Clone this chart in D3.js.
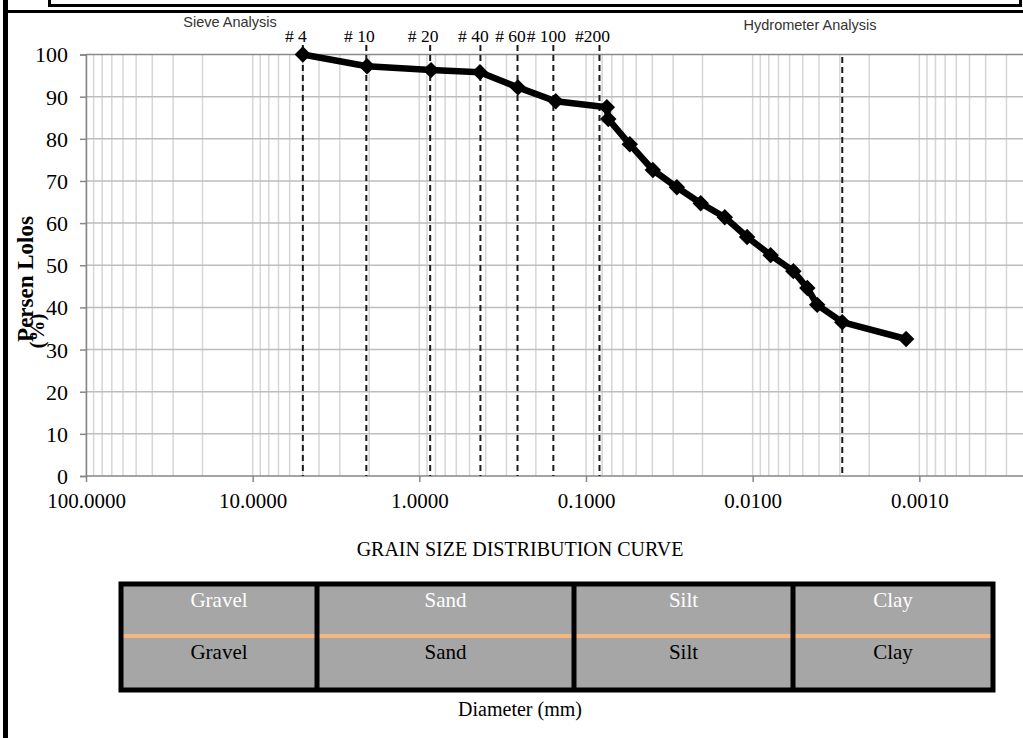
<!DOCTYPE html>
<html lang="en">
<head>
    <meta charset="UTF-8">
    <title>Grain Size Distribution Curve</title>
    <script src="https://cdn.jsdelivr.net/npm/d3@7"></script>
    <style>
        body { margin: 0; background: #fff; }
        svg { display: block; }
        .serif { font-family: "Liberation Serif", "Times New Roman", serif; }
        .sans { font-family: "Liberation Sans", Arial, sans-serif; }
    </style>
</head>
<body>
    <svg id="chart" width="1023" height="738"></svg>
    <script>
        // grain size data (diameter in mm, percent passing)
        const diameters = [5.0, 2.06, 0.851, 0.433, 0.256, 0.152, 0.075, 0.0735, 0.0546, 0.0397,
                           0.0285, 0.0205, 0.0147, 0.0108, 0.0078, 0.0057, 0.0047, 0.0041, 0.0029, 0.0012];
        const percentFiner = [100, 97.2, 96.3, 95.8, 92.2, 88.9, 87.5, 84.7, 78.7, 72.6,
                              68.5, 64.7, 61.4, 56.7, 52.4, 48.6, 44.6, 40.6, 36.5, 32.5];

        // sieve marker lines
        const sieveNames = ["# 4", "# 10", "# 20", "# 40", "# 60", "# 100", "#200"];
        const sieveSizes = [5.0, 2.08, 0.861, 0.43, 0.2576, 0.157, 0.083];
        const hydrometerLine = [0.0029];

        const xTicks = [100, 10, 1, 0.1, 0.01, 0.001];
        const yTicks = [0, 10, 20, 30, 40, 50, 60, 70, 80, 90, 100];
        const soilTypes = ["Gravel", "Sand", "Silt", "Clay"];

        const svg = d3.select("#chart");

        const x = d3.scaleLog().domain([100, 0.0001]).range([86, 1086]);
        const y = d3.scaleLinear().domain([0, 100]).range([476, 54.5]);

        // page frame
        const frame = svg.append("g").attr("fill", "#000");
        frame.append("rect").attr("x", 3).attr("y", 0).attr("width", 5).attr("height", 738);
        frame.append("rect").attr("x", 3).attr("y", 10).attr("width", 1020).attr("height", 3);
        frame.append("rect").attr("x", 49).attr("y", 4).attr("width", 973).attr("height", 3);
        frame.append("rect").attr("x", 48).attr("y", 0).attr("width", 3).attr("height", 7);
        frame.append("rect").attr("x", 1019).attr("y", 0).attr("width", 3).attr("height", 7);

        // vertical grid (log minor lines)
        svg.append("g").selectAll("line")
            .data(x.ticks())
            .join("line")
            .attr("x1", d => x(d)).attr("x2", d => x(d))
            .attr("y1", y(0)).attr("y2", y(100))
            .attr("stroke", "#d6d6d6").attr("stroke-width", 1.5);

        // horizontal grid
        svg.append("g").selectAll("line")
            .data(yTicks.filter(d => d > 0))
            .join("line")
            .attr("x1", x(100)).attr("x2", 1023)
            .attr("y1", d => y(d)).attr("y2", d => y(d))
            .attr("stroke", d => d === 100 ? "#8a8a8a" : "#bdbdbd")
            .attr("stroke-width", 1.5);

        // axes
        const xAxis = svg.append("g")
            .attr("transform", `translate(0,${y(0)})`)
            .call(d3.axisBottom(x).tickValues(xTicks).tickSize(6).tickFormat(d3.format(".4f")));
        const yAxis = svg.append("g")
            .attr("transform", `translate(${x(100)},0)`)
            .call(d3.axisLeft(y).tickValues(yTicks).tickSize(6));

        [xAxis, yAxis].forEach(g => {
            g.select(".domain").attr("stroke", "#868686").attr("stroke-width", 1.5);
            g.selectAll(".tick line").attr("stroke", "#868686").attr("stroke-width", 1.5);
            g.selectAll(".tick text")
                .attr("class", "serif")
                .attr("font-size", 21)
                .attr("fill", "#000");
        });
        xAxis.select(".domain").attr("d", `M${x(100)},0H1023`);
        xAxis.selectAll(".tick text").attr("y", 32).attr("dy", 0);
        yAxis.selectAll(".tick text").attr("x", -18).attr("dy", "0.34em").attr("font-size", 22);

        // sieve / hydrometer dashed lines
        svg.append("g").selectAll("line")
            .data(sieveSizes)
            .join("line")
            .attr("x1", d => x(d)).attr("x2", d => x(d))
            .attr("y1", 45).attr("y2", y(0))
            .attr("stroke", "#1a1a1a").attr("stroke-width", 2)
            .attr("stroke-dasharray", "6,4");
        svg.append("g").selectAll("line")
            .data(hydrometerLine)
            .join("line")
            .attr("x1", d => x(d)).attr("x2", d => x(d))
            .attr("y1", 57).attr("y2", y(0))
            .attr("stroke", "#1a1a1a").attr("stroke-width", 2)
            .attr("stroke-dasharray", "6,4");

        svg.append("g").selectAll("text")
            .data(sieveNames)
            .join("text")
            .attr("class", "serif")
            .attr("x", (d, i) => x(sieveSizes[i]) - 7)
            .attr("y", 42)
            .attr("text-anchor", "middle")
            .attr("font-size", 17.5)
            .text(d => d);

        svg.append("text").attr("class", "sans")
            .attr("x", 230).attr("y", 27).attr("text-anchor", "middle")
            .attr("font-size", 14.5).attr("fill", "#333")
            .text("Sieve Analysis");
        svg.append("text").attr("class", "sans")
            .attr("x", 810).attr("y", 30).attr("text-anchor", "middle")
            .attr("font-size", 14.5).attr("fill", "#333")
            .text("Hydrometer Analysis");

        // curve
        const points = diameters.map((d, i) => ({ d: d, p: percentFiner[i] }));
        svg.append("path")
            .datum(points)
            .attr("fill", "none")
            .attr("stroke", "#000")
            .attr("stroke-width", 6.5)
            .attr("stroke-linejoin", "round")
            .attr("d", d3.line().x(d => x(d.d)).y(d => y(d.p)));
        svg.append("g").selectAll("path")
            .data(points)
            .join("path")
            .attr("d", d3.symbol(d3.symbolSquare, 135))
            .attr("transform", d => `translate(${x(d.d)},${y(d.p)}) rotate(45)`)
            .attr("fill", "#000");

        // y axis title
        svg.append("text").attr("class", "serif")
            .attr("transform", "translate(33,279) rotate(-90)")
            .attr("text-anchor", "middle")
            .attr("font-size", 23).attr("font-weight", "bold")
            .text("Persen Lolos");
        svg.append("text").attr("class", "serif")
            .attr("transform", "translate(44,331) rotate(-90)")
            .attr("text-anchor", "middle")
            .attr("font-size", 21).attr("font-weight", "bold")
            .text("(%)");

        svg.append("text").attr("class", "serif")
            .attr("x", 520).attr("y", 556).attr("text-anchor", "middle")
            .attr("font-size", 20)
            .text("GRAIN SIZE DISTRIBUTION CURVE");

        // soil classification table
        const colEdges = [121, 317, 574, 793, 993];
        const tTop = 584, tBot = 690, tMid = 636;
        const table = svg.append("g");
        table.append("rect")
            .attr("x", colEdges[0]).attr("y", tTop)
            .attr("width", colEdges[4] - colEdges[0]).attr("height", tBot - tTop)
            .attr("fill", "#a6a6a6");
        table.append("line")
            .attr("x1", colEdges[0]).attr("x2", colEdges[4])
            .attr("y1", tMid).attr("y2", tMid)
            .attr("stroke", "#f7b680").attr("stroke-width", 4);
        table.selectAll(".div")
            .data(colEdges.slice(1, 4))
            .join("line")
            .attr("x1", d => d).attr("x2", d => d)
            .attr("y1", tTop).attr("y2", tBot)
            .attr("stroke", "#000").attr("stroke-width", 5);
        table.append("rect")
            .attr("x", colEdges[0]).attr("y", tTop)
            .attr("width", colEdges[4] - colEdges[0]).attr("height", tBot - tTop)
            .attr("fill", "none").attr("stroke", "#000").attr("stroke-width", 5);

        table.selectAll(".top")
            .data(soilTypes)
            .join("text")
            .attr("class", "serif")
            .attr("x", (d, i) => (colEdges[i] + colEdges[i + 1]) / 2)
            .attr("y", 607).attr("text-anchor", "middle")
            .attr("font-size", 21).attr("fill", "#fff")
            .text(d => d);
        table.selectAll(".bot")
            .data(soilTypes)
            .join("text")
            .attr("class", "serif")
            .attr("x", (d, i) => (colEdges[i] + colEdges[i + 1]) / 2)
            .attr("y", 659).attr("text-anchor", "middle")
            .attr("font-size", 21).attr("fill", "#000")
            .text(d => d);

        svg.append("text").attr("class", "serif")
            .attr("x", 520).attr("y", 716).attr("text-anchor", "middle")
            .attr("font-size", 20)
            .text("Diameter (mm)");
    </script>
</body>
</html>
